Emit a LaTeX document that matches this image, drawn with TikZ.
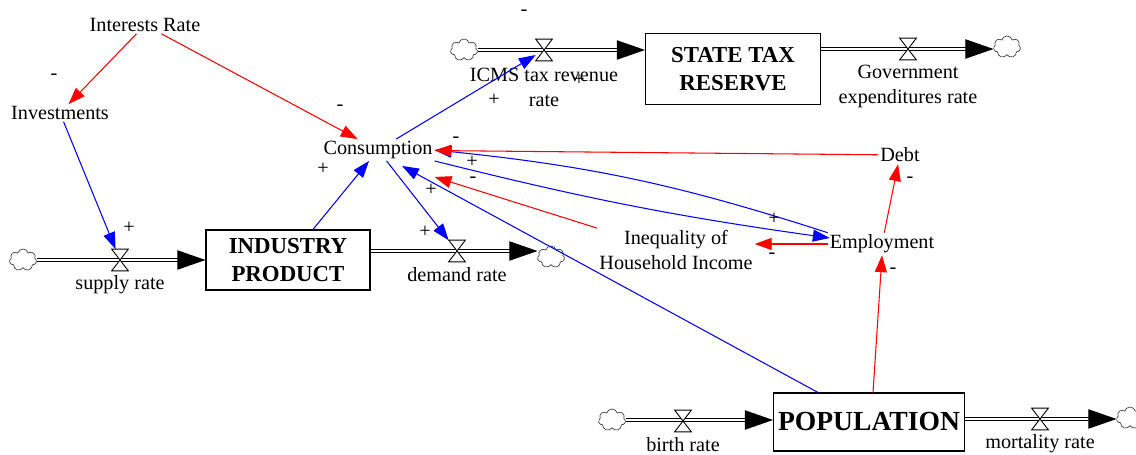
\documentclass[tikz,border=0pt]{standalone}
\usepackage{fontspec}
\setmainfont{Liberation Serif}
\usetikzlibrary{arrows.meta,shapes.symbols,calc}
\begin{document}
\begin{tikzpicture}[x=0.02cm,y=-0.02cm]
	\tikzstyle{every node}+=[inner sep=1pt,font=\fontsize{11.5}{14.2}\selectfont,align=center]
	\tikzstyle{stock}=[draw=black,line width=0.6pt,font=\fontsize{13}{15.6}\selectfont\bfseries]
	\tikzstyle{valve}=[minimum width=0.32cm,minimum height=0.42cm,inner sep=0pt]
	\tikzstyle{cloudy}=[cloud,cloud puffs=7,cloud ignores aspect,draw=black!75,line width=0.4pt,minimum width=0.54cm,minimum height=0.44cm,inner sep=0pt]
	\tikzstyle{pipe}=[draw=black,line width=0.55pt,double=white,double distance=1.7pt,-{Triangle[length=16pt,width=11pt]}]
	\tikzstyle{plink}=[color=blue,line width=0.6pt,-{Triangle[length=9.6pt,width=6.8pt]}]
	\tikzstyle{nlink}=[color=red,line width=0.6pt,-{Triangle[length=9.6pt,width=6.8pt]}]
	\useasboundingbox (0,0) rectangle (1136,455);
	\node (rate) at (145,25) {Interests Rate};
	\node (inv) at (60,113) {Investments};
	\node (cons) at (378,150) {Consumption};
	\node (debt) at (900,155) {Debt};
	\node (empl) at (882,244) {Employment};
	\node (ineq) at (676,250) {Inequality of\\Household Income};
	\node[stock,minimum width=3.5cm,minimum height=1.42cm] (str) at (733,69) {STATE TAX\\RESERVE};
	\node[stock,minimum width=3.28cm,minimum height=1.2cm] (ind) at (288,260) {INDUSTRY\\PRODUCT};
	\node[stock,minimum width=3.82cm,minimum height=1.16cm,font=\fontsize{15.7}{18}\selectfont\bfseries] (pop) at (869,422) {POPULATION};
	\node[valve] (iv) at (544,50) {};
	\node[valve] (gv) at (908,49) {};
	\node[valve] (sv) at (120,260) {};
	\node[valve] (dv) at (457,251) {};
	\node[valve] (bv) at (683,421) {};
	\node[valve] (mv) at (1040,419) {};
	\node (ivl) at (544,87) {ICMS tax revenue\\rate};
	\node (gvl) at (908,86) {Government\\expenditures rate};
	\node (svl) at (120,285) {supply rate};
	\node (dvl) at (457,275) {demand rate};
	\node (bvl) at (683,445) {birth rate};
	\node (mvl) at (1040,444) {mortality rate};
	\node[cloudy] (c1) at (464,50) {};
	\node[cloudy] (c2) at (1007,47) {};
	\node[cloudy] (c3) at (23,260) {};
	\node[cloudy] (c4) at (551,257) {};
	\node[cloudy] (c5) at (612,420) {};
	\node[cloudy] (c6) at (1130,418) {};
	\draw[pipe] (c1.east) -- (c1.east -| str.west);
	\draw[pipe] (str.east |- gv) -- (c2.west |- gv);
	\draw[pipe] (c3.east) -- (c3.east -| ind.west);
	\draw[pipe] (ind.east |- dv) -- (c4.west |- dv);
	\draw[pipe] (c5.east) -- (c5.east -| pop.west);
	\draw[pipe] (pop.east |- mv) -- (c6.west |- mv);
	\foreach \v in {iv,gv,sv,dv,bv,mv}
		\draw[black,line width=0.5pt,fill=white] (\v.north west) -- (\v.north east) -- (\v.south west) -- (\v.south east) -- cycle;
	\draw[nlink] (rate) -- (inv);
	\draw[nlink] (rate) -- (cons);
	\draw[plink] (inv) -- (sv);
	\draw[plink] (ind) -- (cons);
	\draw[plink] (cons) -- (dv);
	\draw[plink] (cons) -- (iv);
	\draw[plink] (empl.north west) to[bend right=6] (cons.east);
	\draw[plink] (cons.south east) to[bend right=3] ($(empl.west)+(2,-6)$);
	\draw[nlink] (debt) -- (cons);
	\draw[nlink] (ineq.north west) -- ($(cons.south east)+(0,16)$);
	\draw[plink] ($(pop.north)+(-51,0)$) -- ($(cons.south)+(24,5)$);
	\draw[nlink] (empl.west) -- (empl.west -| ineq.east);
	\draw[nlink] (empl) -- (debt);
	\draw[nlink] ($(pop.north)+(4,0)$) -- (empl.south);
	\foreach \x/\y/\s [count=\i] in {54/77/-,340/108/-,129/228/+,323/169/+,425/232/+,494/100/+,524/13/-,579/80/+,456/140/-,472/162/+,473/180/-,431/190/+,774/219/+,772/256/-,910/180/-,893/271/-}
		\node (sign\i) at (\x,\y) {\s};
\end{tikzpicture}
\end{document}
